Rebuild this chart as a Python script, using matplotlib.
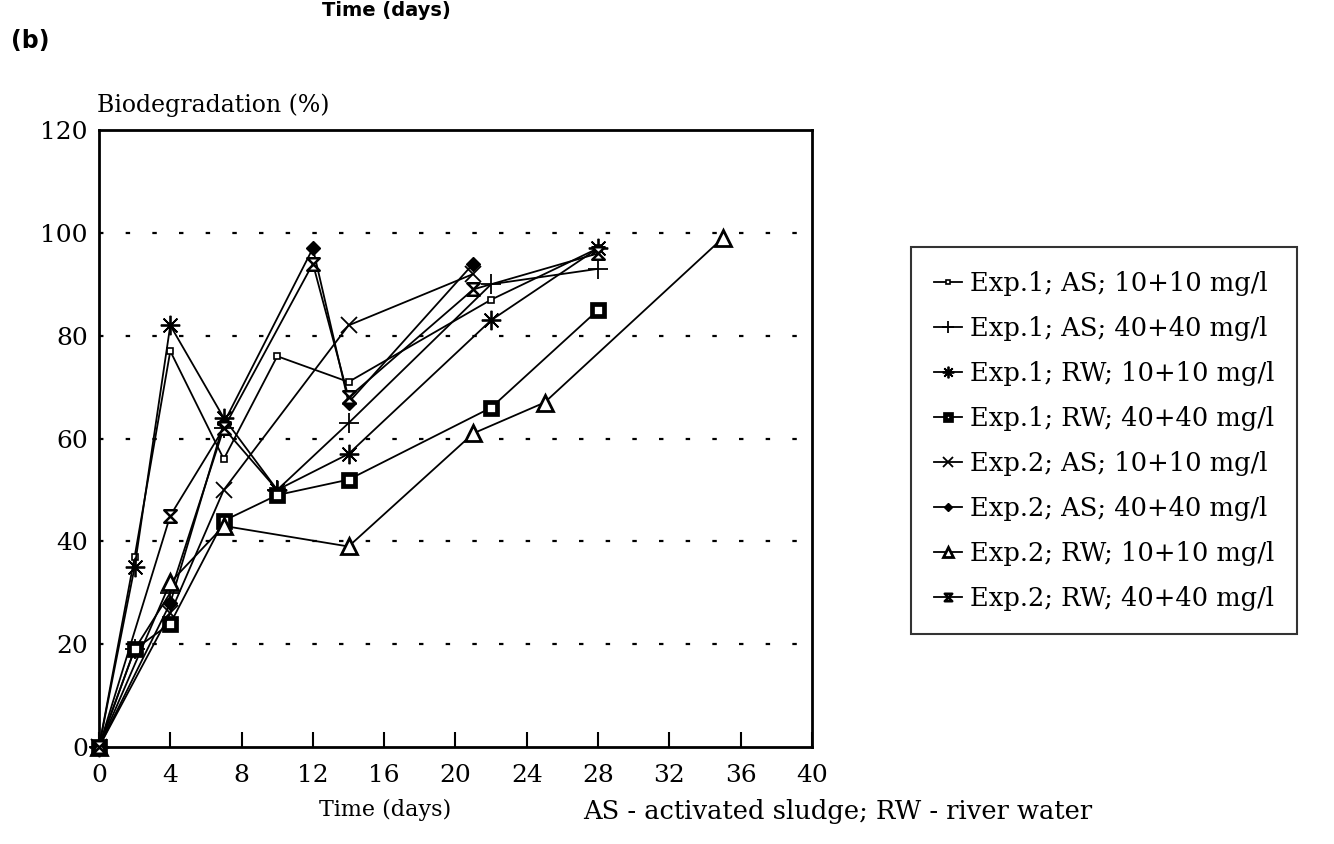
import numpy as np
import matplotlib.pyplot as plt
from matplotlib.path import Path

# Sampling days
exp1_days = [0, 2, 4, 7, 10, 14, 22, 28]
exp2_as10_days = [0, 4, 7, 14, 21]
exp2_as40_days = [0, 4, 7, 12, 14, 21]
exp2_rw10_days = [0, 4, 7, 14, 21, 25, 35]
exp2_rw40_days = [0, 4, 7, 12, 14, 21, 28]

# Biodegradation (%)
exp1_as_10 = [0, 37, 77, 56, 76, 71, 87, 97]
exp1_as_40 = [0, 19, 30, 62, 50, 63, 90, 93]
exp1_rw_10 = [0, 35, 82, 64, 50, 57, 83, 97]
exp1_rw_40 = [0, 19, 24, 44, 49, 52, 66, 85]
exp2_as_10 = [0, 26, 50, 82, 92]
exp2_as_40 = [0, 28, 63, 97, 67, 94]
exp2_rw_10 = [0, 32, 43, 39, 61, 67, 99]
exp2_rw_40 = [0, 45, 62, 94, 68, 89, 96]

labels = ['Exp.1; AS; 10+10 mg/l', 'Exp.1; AS; 40+40 mg/l',
          'Exp.1; RW; 10+10 mg/l', 'Exp.1; RW; 40+40 mg/l',
          'Exp.2; AS; 10+10 mg/l', 'Exp.2; AS; 40+40 mg/l',
          'Exp.2; RW; 10+10 mg/l', 'Exp.2; RW; 40+40 mg/l']

# hourglass marker (two triangles tip to tip)
hourglass = Path([(-1, 1), (1, 1), (-1, -1), (1, -1), (-1, 1)],
                 [Path.MOVETO, Path.LINETO, Path.LINETO, Path.LINETO, Path.CLOSEPOLY])

plt.rcParams['font.family'] = 'DejaVu Serif'

fig = plt.figure(figsize=(13.34, 8.44), dpi=100)
ax = fig.add_axes([0.0742, 0.1149, 0.5345, 0.7311])

series = [
    (exp1_days, exp1_as_10, dict(marker='s', ms=4, mfc='white', mew=1.2)),
    (exp1_days, exp1_as_40, dict(marker='+', ms=15, mew=1.3)),
    (exp1_days, exp1_rw_10, dict(marker=(8, 2, 0), ms=14, mew=1.3)),
    (exp1_days, exp1_rw_40, dict(marker='s', ms=8, mfc='white', mew=3.4)),
    (exp2_as10_days, exp2_as_10, dict(marker='x', ms=11, mew=1.3)),
    (exp2_as40_days, exp2_as_40, dict(marker='D', ms=7, mfc='black', mew=1)),
    (exp2_rw10_days, exp2_rw_10, dict(marker='^', ms=11, mfc='white', mew=2)),
    (exp2_rw40_days, exp2_rw_40, dict(marker=hourglass, ms=9, mfc='white', mew=1.8)),
]

for (days, vals, style), lab in zip(series, labels):
    ax.plot(days, vals, color='black', lw=1.3, mec='black', label=lab,
            clip_on=False, zorder=3, **style)

ax.set_xlim(0, 40)
ax.set_ylim(0, 120)
ax.set_xticks(np.arange(0, 41, 4))
ax.set_yticks(np.arange(0, 121, 20))

# sparse dotted horizontal grid
for yv in range(20, 101, 20):
    ax.axhline(yv, color='black', lw=1.6, linestyle=(0, (2, 10)), zorder=1)

for s in ax.spines.values():
    s.set_linewidth(2)
ax.tick_params(axis='x', direction='in', length=11, width=1.5, labelsize=18, pad=12)
ax.tick_params(axis='y', length=0, labelsize=18, pad=8)

fig.text(0.0727, 0.875, 'Biodegradation (%)', fontsize=17, ha='left', va='center')
fig.text(0.289, 0.04, 'Time (days)', fontsize=16, ha='center', va='center')
fig.text(0.628, 0.038, 'AS - activated sludge; RW - river water', fontsize=18.5,
         ha='center', va='center')
fig.text(0.008, 0.952, '(b)', fontsize=17, fontweight='bold', family='DejaVu Sans',
         ha='left', va='center')
fig.text(0.29, 0.999, 'Time (days)', fontsize=14, fontweight='bold', family='DejaVu Sans',
         ha='center', va='top')

leg = fig.legend(loc='upper left', bbox_to_anchor=(0.673, 0.722), fontsize=18.5,
                 frameon=True, fancybox=False, handlelength=1.1, handletextpad=0.3,
                 labelspacing=0.78, borderpad=0.9, markerscale=0.6)
leg.get_frame().set_edgecolor('black')
leg.get_frame().set_linewidth(1.5)

fig.savefig('out.png', dpi=100)
